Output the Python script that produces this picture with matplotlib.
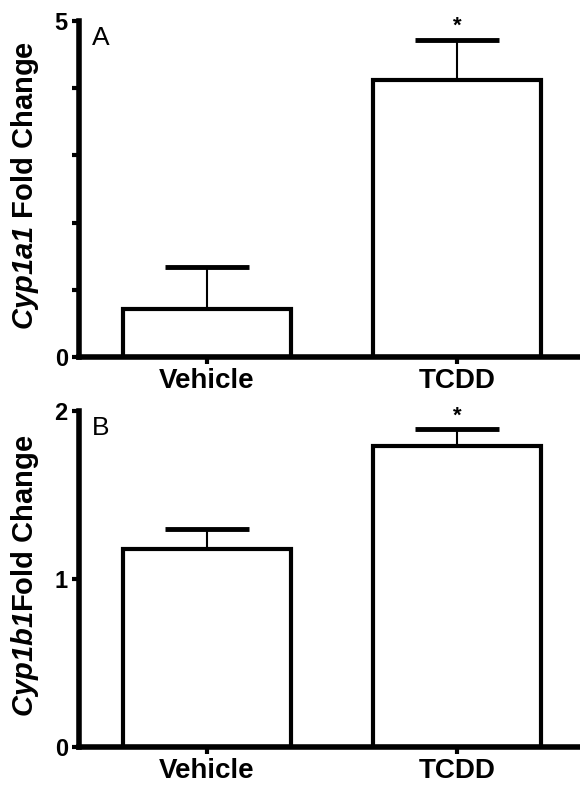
import numpy as np
import matplotlib
matplotlib.use('Agg')
import matplotlib.pyplot as plt

plt.rcParams['font.family'] = ['Liberation Sans', 'DejaVu Sans']
plt.rcParams['mathtext.fontset'] = 'custom'
# only the gene names go through mathtext, so all of it can be bold italic
plt.rcParams['mathtext.it'] = 'Liberation Sans:italic:bold'
plt.rcParams['mathtext.rm'] = 'Liberation Sans:italic:bold'

categories = ['Vehicle', 'TCDD']
cyp1a1_mean = [0.71, 4.12]
cyp1a1_sem = [0.63, 0.60]
cyp1b1_mean = [1.18, 1.79]
cyp1b1_sem = [0.12, 0.10]

panels = [
	('A', r'$\mathit{Cyp1a1}$ Fold Change', cyp1a1_mean, cyp1a1_sem, 5, [0, 1, 2, 3, 4, 5], ['0', '', '', '', '', '5']),
	('B', r'$\mathit{Cyp1b1}$Fold Change', cyp1b1_mean, cyp1b1_sem, 2, [0, 1, 2], ['0', '1', '2']),
]
signif = [False, True]

fig = plt.figure(figsize=(5.8, 7.93), dpi=100)
axes_pos = [[0.136, 0.5498, 0.864, 0.4237], [0.136, 0.058, 0.864, 0.4237]]

for pos, (letter, ylabel, mean, sem, ymax, yticks, yticklabels) in zip(axes_pos, panels):
	ax = fig.add_axes(pos)
	x = np.arange(len(categories))
	ax.bar(x, mean, width=0.67, color='white', edgecolor='black', linewidth=3, zorder=2)
	ax.errorbar(x, mean, yerr=[np.zeros(len(sem)), sem], fmt='none', ecolor='black',
		elinewidth=1.5, capsize=30, capthick=3.5, zorder=1)
	for i, s in enumerate(signif):
		if s:
			ax.annotate('*', xy=(x[i], mean[i] + sem[i]), xytext=(0, 2), textcoords='offset points',
				ha='center', va='bottom', fontsize=16, fontweight='bold')
	ax.set_xlim(-0.51, 1.49)
	ax.set_ylim(0, ymax)
	ax.set_xticks(x)
	ax.set_xticklabels(categories, fontsize=20, fontweight='bold')
	ax.set_yticks(yticks)
	ax.set_yticklabels(yticklabels, fontsize=17, fontweight='bold')
	ax.tick_params(axis='y', length=5, width=3, pad=3)
	ax.tick_params(axis='x', length=5, width=3, pad=3)
	for side in ['top', 'right']:
		ax.spines[side].set_visible(False)
	for side in ['left', 'bottom']:
		ax.spines[side].set_linewidth(4)
	ax.set_ylabel(ylabel, fontsize=21, fontweight='bold')
	ax.yaxis.set_label_coords(-0.075, 0.51)
	ax.text(0.026, 0.985, letter, transform=ax.transAxes, ha='left', va='top', fontsize=19)

fig.savefig('out.png', dpi=100)
